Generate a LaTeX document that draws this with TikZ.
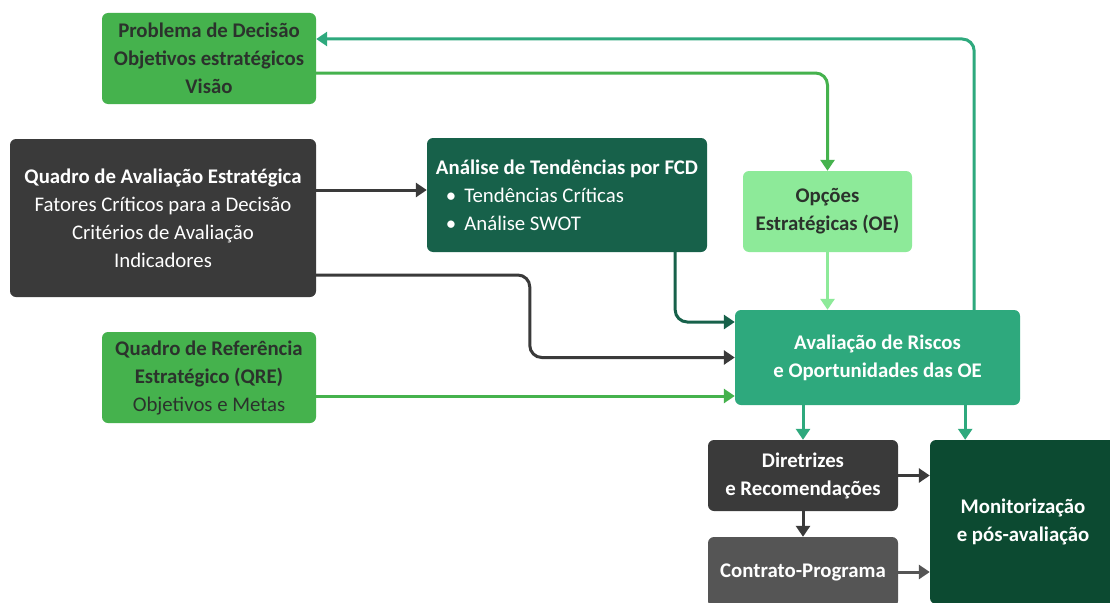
\documentclass[tikz,border=0pt]{standalone}
\usepackage{fontspec}
\setmainfont{Carlito}
\usetikzlibrary{arrows.meta,calc}
\definecolor{cgreen}{HTML}{45B24D}
\definecolor{clight}{HTML}{8DEA99}
\definecolor{cteal}{HTML}{2EA97D}
\definecolor{cdkgreen}{HTML}{17614A}
\definecolor{cmon}{HTML}{0C4A31}
\definecolor{cdark}{HTML}{3A3A3A}
\definecolor{cgray}{HTML}{555555}
\definecolor{ctext}{HTML}{2B322C}
\tikzset{
  box/.style={rounded corners=6pt, inner sep=0pt, align=center, font=\fontsize{20.8}{28}\selectfont},
  conn/.style={line width=3pt, rounded corners=12pt, -{Triangle[length=11pt,width=14pt]}},
}
\begin{document}
\begin{tikzpicture}[x=1pt,y=-1pt]
\useasboundingbox (0,0) rectangle (1110,602);
\clip (0,0) rectangle (1110,602);
\fill[white] (0,0) rectangle (1110,602);

\node[box, fill=cgreen, text=ctext, minimum width=214pt, minimum height=91pt] (prob) at (209,58.5)
  {\textbf{Problema de Decisão}\\\textbf{Objetivos estratégicos}\\\textbf{Visão}};
\node[box, fill=cdark, text=white, minimum width=306pt, minimum height=158pt] (qae) at (163,218)
  {\textbf{Quadro de Avaliação Estratégica}\\Fatores Críticos para a Decisão\\Critérios de Avaliação\\Indicadores};
\node[box, fill=cdkgreen, text=white, minimum width=280pt, minimum height=114pt, align=left] (ana) at (567,195)
  {\textbf{Análise de Tendências por FCD}\\\hspace*{10pt}\textbullet\hspace{8pt}Tendências Críticas\\\hspace*{10pt}\textbullet\hspace{8pt}Análise SWOT};
\node[box, fill=clight, text=ctext, minimum width=169pt, minimum height=81pt] (opc) at (827.5,211.5)
  {\textbf{Opções}\\\textbf{Estratégicas (OE)}};
\node[box, fill=cgreen, text=ctext, minimum width=214pt, minimum height=91pt] (qre) at (209,377.5)
  {\textbf{Quadro de Referência}\\\textbf{Estratégico (QRE)}\\Objetivos e Metas};
\node[box, fill=cteal, text=white, minimum width=285pt, minimum height=95pt] (ava) at (877.5,357.5)
  {\textbf{Avaliação de Riscos}\\\textbf{e Oportunidades das OE}};
\node[box, fill=cdark, text=white, minimum width=190pt, minimum height=71pt] (dir) at (803,475.5)
  {\textbf{Diretrizes}\\\textbf{e Recomendações}};
\node[box, fill=cgray, text=white, minimum width=190pt, minimum height=70pt] (con) at (803,572)
  {\textbf{Contrato-Programa}};
\node[box, fill=cmon, text=white, minimum width=186pt, minimum height=164pt] (mon) at (1023,522)
  {\textbf{Monitorização}\\\textbf{e pós-avaliação}};

% connectors
\draw[conn, color=cteal]
  ($(ava.north east)+(-46,0)$) |- ($(prob.east)+(0,-19.5)$);
\draw[conn, color=cgreen]
  ($(prob.east)+(0,14.5)$) -| (opc.north);
\draw[conn, color=cdark]
  ($(qae.east)+(0,-28)$) -- ($(ana.west)+(0,-5)$);
\draw[conn, color=cdark]
  ($(qae.east)+(0,57)$) -| ($(ava.west)+(-205,0)$) -- (ava.west);
\draw[conn, color=cdkgreen]
  ($(ana.south east)+(-32,0)$) |- ($(ava.west)+(0,-35.5)$);
\draw[conn, color=clight]
  (opc.south) -- (opc.south |- ava.north);
\draw[conn, color=cgreen]
  ($(qre.east)+(0,18.5)$) -- ($(ava.west)+(0,38.5)$);
\draw[conn, color=cteal]
  (dir.north |- ava.south) -- (dir.north);
\coordinate (m9) at ($(ava.south east)+(-55,0)$);
\draw[conn, color=cteal]
  (m9) -- (m9 |- mon.north);
\draw[conn, color=cdark]
  (dir.east) -- (dir.east -| mon.west);
\draw[conn, color=cdark]
  (dir.south) -- (con.north);
\draw[conn, color=cgray]
  (con.east) -- (con.east -| mon.west);
\end{tikzpicture}
\end{document}
